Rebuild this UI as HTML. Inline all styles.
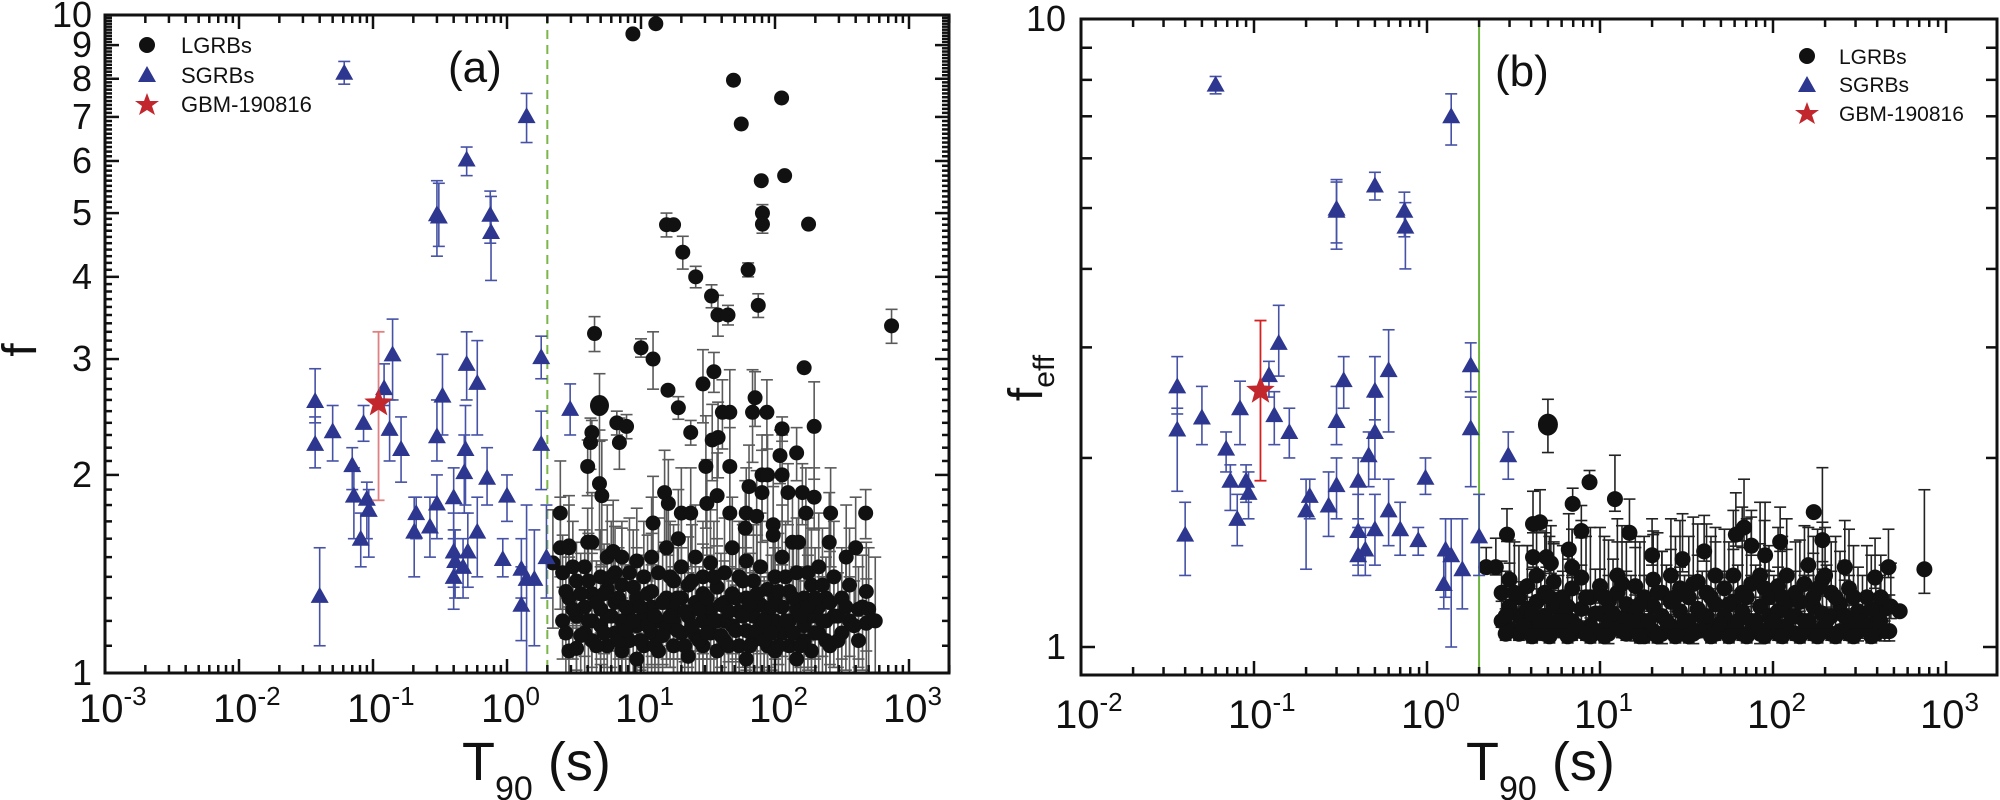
<!DOCTYPE html>
<html><head><meta charset="utf-8"><style>
html,body{margin:0;padding:0;background:#fff;}
svg{display:block;font-family:"Liberation Sans",Arial,sans-serif;}
</style></head><body>
<svg id="chart" width="2000" height="800" viewBox="0 0 2000 800" xmlns="http://www.w3.org/2000/svg">
<defs>
<clipPath id="clipA"><rect x="105" y="15" width="844" height="658"/></clipPath>
<clipPath id="clipB"><rect x="1081" y="19" width="916" height="656"/></clipPath>
</defs>
<g id="panelA"></g>
<g id="panelB"></g>
</svg>
<script>
// ---------- Panel (a) data ----------
const sgrbA_T=[0.037,0.037,0.040,0.050,0.061,0.070,0.072,0.085,0.081,0.090,0.093,0.121,0.140,0.133,0.162,0.21,0.203,0.266,0.30,0.31,0.30,0.30,0.33,0.40,0.40,0.40,0.41,0.47,0.50,0.50,0.49,0.48,0.51,0.60,0.60,0.71,0.75,0.76,1.0,0.93,1.28,1.40,1.28,1.40,1.60,1.80,1.80,1.97,2.96];
const sgrbA_f=[2.59,2.23,1.31,2.33,8.17,2.07,1.86,2.40,1.60,1.84,1.77,2.71,3.05,2.35,2.19,1.75,1.64,1.67,4.98,4.94,2.29,1.81,2.64,1.85,1.53,1.40,1.48,1.45,6.03,2.95,2.19,2.02,1.53,2.76,1.64,1.98,4.97,4.68,1.86,1.49,1.44,7.02,1.27,1.39,1.39,3.02,2.23,1.50,2.52];
const sgrbA_lo=[2.40,2.05,1.10,2.10,7.85,1.90,1.60,2.25,1.45,1.60,1.50,2.55,2.60,2.10,1.95,1.60,1.40,1.50,4.30,4.45,2.10,1.60,2.30,1.65,1.35,1.25,1.30,1.30,5.70,2.60,1.80,1.75,1.35,2.30,1.40,1.80,4.50,3.95,1.70,1.40,1.30,6.40,1.12,1.00,1.10,2.80,1.90,1.30,2.30];
const sgrbA_hi=[2.90,2.45,1.55,2.55,8.50,2.20,2.05,2.55,1.75,1.95,1.90,2.95,3.45,2.60,2.45,1.85,1.85,1.85,5.60,5.55,2.60,2.00,3.05,2.05,1.75,1.60,1.65,1.60,6.30,3.30,2.55,2.30,1.75,3.20,1.85,2.20,5.40,5.30,2.00,1.60,1.60,7.60,1.45,1.80,1.65,3.25,2.50,1.80,2.75];
const starA=[0.11,2.57,1.83,3.30];
// [T, f, err]
const lgrbA_outliers=[[8.7,9.36,0],[12.9,9.7,0],[49,7.96,0],[112,7.48,0],[56,6.83,0],[79,5.6,0],[118,5.7,0],[80.6,5.0,0.15],[80.6,4.81,0.15],[178,4.81,0],[15.5,4.8,0.2],[17.5,4.8,0],[20.5,4.36,0.25],[25.6,4.0,0.15],[33.6,3.74,0.15],[37.5,3.5,0.25],[44.6,3.5,0.12],[63,4.1,0.1],[75,3.62,0.15],[741,3.37,0.2],[4.5,3.28,0.2],[10,3.12,0.1],[12.3,3.0,0.3],[15.9,2.69,0],[29,2.75,0.35],[35,2.87,0.2],[165,2.91,0],[71,2.62,0.25],
[2.5,1.75,0.35],[4.0,2.06,0.2],[4.2,2.24,0.2],[4.3,2.32,0.1],[4.9,1.94,0.4],[5.1,1.86,0.4],[4.0,1.58,0.2],[6.6,2.4,0.1],[7.8,2.37,0.1],[6.9,2.24,0.2],[19,2.53,0.1],[23.5,2.32,0.1],[30.5,2.06,0.4],[34,2.26,0.3],[37.6,2.28,0.3],[40.5,2.49,0.3],[46,2.49,0.4],[46,2.06,0.3],[68,2.49,0.4],[87,2.49,0.3],[113,2.35,0.1],[196,2.37,0.4],[145,2.16,0.2],[109,2.14,0.2],[80,2.0,0.3],[88,2.0,0.3],[113,2.0,0.3],[64,1.92,0.3],[80,1.88,0.3],[125,1.88,0.2],[160,1.88,0.2],[196,1.85,0.2],[260,1.75,0.3],[475,1.75,0.15],[170,1.75,0.3],[46,1.75,0.3],[61,1.75,0.3],[73,1.73,0.3],[20,1.75,0.3],[23.5,1.75,0.3],[15,1.88,0.3],[16,1.81,0.3],[31,1.81,0.3],[37,1.86,0.3],[12.3,1.69,0.3],[19,1.6,0.3],[6.2,1.53,0.3],[60,1.66,0.3],[97,1.68,0.3],[97,1.62,0.3],[135,1.58,0.3],[150,1.58,0.3],[254,1.58,0.3],[400,1.55,0.3],[340,1.5,0.3],[500,1.25,0.3],[560,1.2,0.3],[3.3,1.09,0.1],[2.2,1.47,0.3],[2.5,1.55,0.3],[2.9,1.56,0.3]];
const lgrbA_big=[[4.9,2.55,0.3]];
const lgrbA_cluster=[[2.6,1.42,0.2],[2.6,1.2,0.15],[2.9,1.55,0.25],[2.9,1.3,0.2],[2.9,1.08,0.1],[3.3,1.09,0.08],[3.3,1.38,0.2],[3.3,1.22,0.15],[3.8,1.26,0.2],[3.8,1.15,0.15],[3.8,1.45,0.2],[4.3,1.32,0.2],[4.3,1.12,0.1],[4.3,1.2,0.2],[4.3,1.58,0.3],[5,1.25,0.2],[5,1.4,0.25],[5,1.18,0.15],[5.6,1.1,0.1],[5.6,1.34,0.2],[5.6,1.5,0.3],[5.6,1.22,0.2],[6.4,1.28,0.2],[6.4,1.15,0.15],[6.4,1.42,0.25],[7.2,1.36,0.3],[7.2,1.2,0.2],[7.2,1.08,0.1],[7.2,1.5,0.2],[8.2,1.25,0.2],[8.2,1.42,0.3],[8.2,1.12,0.15],[9.3,1.3,0.25],[9.3,1.18,0.2],[9.3,1.05,0.1],[9.3,1.48,0.3],[10.5,1.4,0.3],[10.5,1.22,0.2],[10.5,1.1,0.15],[12,1.33,0.3],[12,1.15,0.2],[12,1.5,0.35],[12,1.26,0.2],[13.5,1.2,0.2],[13.5,1.08,0.1],[13.5,1.42,0.3],[15.5,1.3,0.25],[15.5,1.17,0.15],[15.5,1.55,0.3],[17.5,1.25,0.2],[17.5,1.38,0.3],[17.5,1.1,0.1],[17.5,1.2,0.2],[20,1.45,0.3],[20,1.15,0.2],[20,1.3,0.25],[22.5,1.22,0.2],[22.5,1.06,0.1],[22.5,1.36,0.25],[25.5,1.28,0.2],[25.5,1.5,0.3],[25.5,1.14,0.15],[29,1.2,0.2],[29,1.4,0.3],[29,1.1,0.1],[29,1.32,0.25],[33,1.25,0.2],[33,1.15,0.15],[33,1.47,0.3],[37,1.35,0.25],[37,1.08,0.1],[37,1.2,0.2],[42,1.28,0.2],[42,1.42,0.3],[42,1.12,0.15],[42,1.2,0.2],[48,1.18,0.2],[48,1.32,0.25],[48,1.55,0.3],[54,1.24,0.2],[54,1.1,0.1],[54,1.4,0.3],[61,1.3,0.25],[61,1.16,0.15],[61,1.05,0.1],[61,1.48,0.3],[69,1.22,0.2],[69,1.38,0.3],[69,1.12,0.15],[78,1.27,0.2],[78,1.45,0.3],[78,1.18,0.2],[88,1.34,0.25],[88,1.1,0.1],[88,1.22,0.2],[100,1.2,0.2],[100,1.4,0.3],[100,1.08,0.1],[100,1.3,0.25],[113,1.26,0.2],[113,1.15,0.15],[113,1.5,0.3],[128,1.33,0.25],[128,1.2,0.2],[128,1.1,0.15],[145,1.42,0.3],[145,1.25,0.2],[145,1.05,0.1],[165,1.18,0.2],[165,1.3,0.25],[165,1.12,0.1],[187,1.36,0.3],[187,1.22,0.2],[187,1.08,0.1],[212,1.26,0.2],[212,1.15,0.15],[212,1.45,0.3],[240,1.3,0.2],[240,1.12,0.15],[240,1.2,0.2],[275,1.4,0.3],[275,1.22,0.2],[315,1.15,0.15],[315,1.3,0.25],[360,1.36,0.3],[360,1.2,0.2],[420,1.25,0.2],[420,1.12,0.1],[480,1.33,0.25],[480,1.19,0.2]];
const lgrbA_cluster2=[[2.75,1.33,.2],[2.75,1.15,.15],[3.1,1.25,.2],[3.1,1.45,.25],[3.55,1.14,.15],[3.55,1.32,.2],[4.05,1.2,.2],[4.05,1.38,.25],[4.65,1.1,.1],[4.65,1.28,.2],[5.3,1.15,.15],[5.3,1.32,.25],[6.0,1.22,.2],[6.0,1.4,.3],[6.8,1.12,.15],[6.8,1.3,.25],[7.7,1.26,.2],[7.7,1.16,.2],[8.75,1.35,.3],[8.75,1.2,.2],[9.9,1.12,.15],[9.9,1.26,.25],[11.2,1.18,.2],[11.2,1.32,.3],[12.7,1.1,.15],[12.7,1.22,.2],[14.5,1.28,.25],[14.5,1.14,.15],[16.5,1.22,.2],[16.5,1.4,.3],[18.7,1.16,.2],[18.7,1.3,.25],[21.2,1.1,.15],[21.2,1.24,.2],[24,1.18,.2],[24,1.38,.3],[27.2,1.25,.2],[27.2,1.12,.15],[31,1.15,.2],[31,1.3,.25],[35,1.2,.2],[35,1.4,.3],[39.5,1.14,.15],[39.5,1.27,.25],[45,1.1,.1],[45,1.24,.2],[51,1.3,.25],[51,1.16,.2],[57.5,1.22,.2],[57.5,1.38,.3],[65,1.1,.15],[65,1.27,.25],[73.5,1.16,.2],[73.5,1.32,.3],[83,1.2,.2],[83,1.12,.15],[94,1.26,.25],[94,1.15,.2],[106,1.33,.3],[106,1.1,.15],[120,1.2,.2],[120,1.4,.3],[137,1.15,.15],[137,1.3,.25],[155,1.22,.2],[155,1.1,.1],[176,1.26,.25],[176,1.42,.3],[199,1.15,.2],[199,1.3,.25],[226,1.2,.2],[226,1.36,.3],[257,1.1,.15],[257,1.28,.25],[295,1.22,.2],[295,1.12,.15],[338,1.26,.25],[390,1.18,.2],[450,1.26,.25]];
const xTickExpA=[-3,-2,-1,0,1,2,3];
const yTickLabelsA=[1,2,3,4,5,6,7,8,9,10];

// ---------- Panel (b) data ----------
const sgrbB_T=[0.036,0.036,0.040,0.050,0.060,0.069,0.073,0.083,0.080,0.090,0.093,0.122,0.139,0.131,0.160,0.21,0.20,0.27,0.30,0.30,0.30,0.30,0.33,0.40,0.40,0.40,0.44,0.46,0.50,0.50,0.50,0.50,0.60,0.60,0.70,0.74,0.75,0.89,0.98,1.28,1.38,1.25,1.38,1.60,1.79,1.79,2.0,2.95];
const sgrbB_f=[2.60,2.22,1.51,2.32,7.86,2.07,1.84,2.40,1.60,1.84,1.76,2.71,3.05,2.34,2.20,1.74,1.65,1.68,4.99,4.95,2.29,1.81,2.66,1.84,1.53,1.40,1.43,2.02,5.43,2.56,2.20,1.54,2.76,1.65,1.54,4.95,4.67,1.48,1.86,1.43,7.00,1.26,1.40,1.33,2.81,2.23,1.50,2.02];
const sgrbB_lo=[2.35,1.77,1.30,2.10,7.60,1.90,1.65,2.10,1.45,1.70,1.60,2.50,2.70,2.10,2.00,1.60,1.33,1.50,4.40,4.30,2.10,1.60,2.40,1.60,1.35,1.30,1.30,1.80,5.15,2.30,1.85,1.35,2.20,1.45,1.40,4.50,4.00,1.40,1.75,1.20,6.30,1.15,1.00,1.15,2.55,1.80,1.30,1.85];
const sgrbB_hi=[2.90,2.40,1.70,2.60,8.10,2.20,1.95,2.65,1.75,1.95,1.90,2.85,3.50,2.55,2.40,1.85,1.85,1.90,5.50,5.55,2.60,2.00,2.90,2.00,1.75,1.55,1.55,2.20,5.70,2.90,2.50,1.75,3.20,1.85,1.70,5.30,5.10,1.55,2.00,1.60,7.60,1.40,1.60,1.60,3.05,2.50,1.75,2.20];
const starB=[0.109,2.56,1.84,3.31];
const lgrbB_big=[[5.0,2.26,0.22]];
const lgrbB_outliers=[[8.7,1.83,0.08],[12.2,1.72,0.3],[6.95,1.69,0.1],[7.8,1.53,0.15],[6.6,1.43,0.2],[4.1,1.57,0.2],[4.5,1.58,0.2],[2.9,1.51,0.15],[4.1,1.39,0.2],[4.9,1.39,0.2],[5.2,1.36,0.2],[6.9,1.34,0.2],[14.8,1.52,0.2],[61,1.51,0.25],[68,1.55,0.3],[110,1.47,0.2],[172,1.64,0],[193,1.48,0.45],[260,1.34,0.25],[389,1.29,0.2],[465,1.34,0.2],[540,1.14,0],[750,1.33,0.45],[2.2,1.34,0.1],[2.5,1.34,0.15],[75,1.45,0.2],[90,1.4,0.3],[40,1.42,0.2],[30,1.38,0.25],[20,1.4,0.2],[160,1.35,0.2],[200,1.3,0.25],[420,1.2,0.2],[480,1.16,0.2]];
const lgrbB_cluster=[[2.7,1.22,0.15],[2.7,1.1,0.1],[3.0,1.07,0.1],[3.0,1.16,0.2],[3.0,1.28,0.2],[3.4,1.12,0.15],[3.4,1.2,0.25],[3.4,1.05,0.1],[3.8,1.25,0.2],[3.8,1.09,0.15],[3.8,1.15,0.3],[4.3,1.06,0.1],[4.3,1.18,0.2],[4.3,1.3,0.25],[4.8,1.12,0.2],[4.8,1.22,0.3],[4.8,1.05,0.1],[5.4,1.08,0.15],[5.4,1.27,0.2],[5.4,1.16,0.3],[6.1,1.2,0.25],[6.1,1.06,0.1],[6.1,1.12,0.2],[6.9,1.1,0.2],[6.9,1.24,0.3],[6.9,1.05,0.1],[7.8,1.15,0.2],[7.8,1.06,0.1],[7.8,1.29,0.3],[8.8,1.08,0.15],[8.8,1.2,0.35],[8.8,1.04,0.1],[10,1.13,0.2],[10,1.25,0.3],[10,1.06,0.1],[11.2,1.05,0.15],[11.2,1.18,0.3],[11.2,1.1,0.2],[12.6,1.22,0.25],[12.6,1.08,0.1],[12.6,1.3,0.3],[14.2,1.12,0.2],[14.2,1.05,0.1],[14.2,1.17,0.3],[16,1.06,0.15],[16,1.25,0.25],[16,1.14,0.3],[18,1.1,0.2],[18,1.2,0.3],[18,1.04,0.1],[20.3,1.16,0.35],[20.3,1.06,0.1],[20.3,1.28,0.25],[22.8,1.05,0.15],[22.8,1.12,0.3],[22.8,1.22,0.2],[25.7,1.18,0.25],[25.7,1.08,0.1],[25.7,1.3,0.3],[29,1.06,0.15],[29,1.14,0.2],[29,1.24,0.35],[32.6,1.1,0.2],[32.6,1.2,0.3],[32.6,1.04,0.1],[36.7,1.15,0.25],[36.7,1.06,0.1],[36.7,1.27,0.3],[41.3,1.08,0.15],[41.3,1.22,0.35],[41.3,1.12,0.2],[46.5,1.05,0.1],[46.5,1.17,0.3],[46.5,1.3,0.25],[52.4,1.12,0.2],[52.4,1.06,0.1],[52.4,1.24,0.3],[59,1.18,0.25],[59,1.08,0.15],[59,1.3,0.35],[66.4,1.05,0.1],[66.4,1.14,0.3],[66.4,1.22,0.45],[74.8,1.1,0.2],[74.8,1.26,0.35],[74.8,1.06,0.1],[84.2,1.16,0.3],[84.2,1.05,0.15],[84.2,1.3,0.4],[94.8,1.07,0.1],[94.8,1.2,0.25],[94.8,1.12,0.2],[107,1.14,0.2],[107,1.05,0.1],[107,1.25,0.3],[120,1.08,0.15],[120,1.18,0.25],[120,1.3,0.3],[135,1.05,0.1],[135,1.12,0.2],[135,1.22,0.25],[152,1.1,0.2],[152,1.26,0.3],[152,1.06,0.1],[171,1.16,0.25],[171,1.05,0.1],[171,1.2,0.3],[193,1.07,0.15],[193,1.13,0.2],[193,1.28,0.3],[217,1.12,0.2],[217,1.05,0.1],[217,1.22,0.25],[244,1.06,0.1],[244,1.17,0.25],[275,1.1,0.2],[275,1.24,0.3],[275,1.05,0.1],[310,1.14,0.2],[310,1.06,0.15],[349,1.07,0.15],[349,1.2,0.25],[393,1.1,0.2],[393,1.05,0.1],[442,1.06,0.15],[442,1.15,0.2]];
const lgrbB_cluster2=[[2.85,1.12,.2],[2.85,1.05,.1],[3.2,1.22,.25],[3.6,1.08,.15],[4.05,1.13,.2],[4.05,1.04,.1],[4.55,1.1,.2],[5.1,1.04,.1],[5.1,1.2,.3],[5.75,1.1,.2],[6.5,1.16,.25],[6.5,1.04,.1],[7.35,1.08,.15],[8.3,1.2,.3],[8.3,1.05,.1],[9.4,1.13,.2],[10.6,1.04,.1],[10.6,1.2,.3],[11.9,1.13,.25],[13.4,1.06,.1],[13.4,1.26,.3],[15.1,1.1,.2],[17,1.04,.1],[17,1.17,.3],[19.1,1.1,.2],[21.5,1.04,.1],[21.5,1.22,.3],[24.2,1.1,.25],[27.3,1.04,.1],[27.3,1.2,.3],[30.8,1.1,.2],[34.6,1.05,.15],[34.6,1.26,.35],[39,1.12,.2],[43.8,1.04,.1],[43.8,1.2,.3],[49.4,1.09,.2],[55.6,1.04,.1],[55.6,1.17,.3],[62.6,1.1,.25],[70.5,1.04,.1],[70.5,1.2,.4],[79.4,1.1,.25],[89.4,1.04,.1],[89.4,1.24,.35],[101,1.1,.2],[113,1.04,.1],[113,1.2,.3],[127,1.12,.2],[143,1.04,.1],[143,1.18,.3],[161,1.1,.2],[181,1.04,.1],[181,1.24,.3],[204,1.1,.25],[230,1.04,.1],[230,1.2,.3],[259,1.12,.25],[292,1.04,.1],[292,1.2,.25],[329,1.1,.2],[370,1.04,.1],[370,1.15,.25],[416,1.1,.2],[470,1.06,.15]];
const xTickExpB=[-2,-1,0,1,2,3];
const yTickLabelsB=[1,10];

// ---------- helpers ----------
const NS='http://www.w3.org/2000/svg';
function mk(tag,attrs,parent){const e=document.createElementNS(NS,tag);for(const k in attrs)e.setAttribute(k,attrs[k]);if(parent)parent.appendChild(e);return e;}
const L=Math.log10;

function makePanel(cfg){
  const g=document.getElementById(cfg.id);
  const X=t=>cfg.x0+cfg.dx*(L(t)-cfg.tmin);
  const Y=f=>cfg.y0-cfg.dy*L(f);
  const plot=mk('g',{'clip-path':'url(#'+cfg.clip+')'},g);
  
  
  const th=mk('line',{x1:X(2),x2:X(2),y1:cfg.top,y2:cfg.bottom,stroke:cfg.lineColor,'stroke-width':2,'stroke-dasharray':cfg.dashed?'9,6':'none'},plot);
  
  

  function errbar(parent,t,lo,hi,color,w,cap){
    const x=X(t),y1=Y(lo),y2=Y(hi);
    mk('line',{x1:x,x2:x,y1:y1,y2:y2,stroke:color,'stroke-width':w},parent);
    mk('line',{x1:x-cap,x2:x+cap,y1:y1,y2:y1,stroke:color,'stroke-width':w},parent);
    mk('line',{x1:x-cap,x2:x+cap,y1:y2,y2:y2,stroke:color,'stroke-width':w},parent);
  }
  const lg=mk('g',{},plot);
  
  
  const allL=cfg.lgCluster.concat(cfg.lgCluster2,cfg.lgOut);
  allL.forEach(p=>{if(p[2]>0)errbar(lg,p[0],Math.max(0.9,p[1]-p[2]*cfg.lowFrac),p[1]+p[2],cfg.lgErr,1.6,6);});
  cfg.lgBig.forEach(p=>errbar(lg,p[0],p[1]-p[2],p[1]+p[2],cfg.lgErr,1.6,6));
  allL.forEach(p=>{const c=mk('circle',{cx:X(p[0]),cy:Y(p[1]),r:cfg.r,fill:'#111'},lg);
    
    });
  cfg.lgBig.forEach(p=>{const c=mk('ellipse',{cx:X(p[0]),cy:Y(p[1]),rx:cfg.r+2,ry:cfg.r+3,fill:'#111'},lg);
    
    });
  const sg=mk('g',{},plot);
  
  
  cfg.sT.forEach((t,i)=>errbar(sg,t,cfg.sLo[i],cfg.sHi[i],'#4652a6',1.6,6));
  cfg.sT.forEach((t,i)=>{const x=X(t),y=Y(cfg.sF[i]);
    const tr=mk('polygon',{points:`${x-9},${y+7} ${x+9},${y+7} ${x},${y-9}`,fill:'#2e3790'},sg);
    
    });
  const s=cfg.star;
  errbar(plot,s[0],s[2],s[3],cfg.starErr,1.8,6);
  const st=star(X(s[0]),Y(s[1]),15,plot);
  
  

  const fr=mk('rect',{x:cfg.x0,y:cfg.top,width:cfg.right-cfg.x0,height:cfg.bottom-cfg.top,fill:'none',stroke:'#111','stroke-width':3},g);
  
  
  const ax=mk('g',{stroke:'#111','stroke-width':2.5},g);
  
  
  cfg.xExp.forEach(e=>{
    for(let m=1;m<=9;m++){const t=m*Math.pow(10,e);const x=X(t);if(x<cfg.x0-1||x>cfg.right+1)continue;
      const len=m===1?14:8;
      mk('line',{x1:x,x2:x,y1:cfg.bottom,y2:cfg.bottom-len},ax);
      mk('line',{x1:x,x2:x,y1:cfg.top,y2:cfg.top+len},ax);}
  });
  cfg.xExp.forEach(e=>{
    const x=X(Math.pow(10,e));
    const tx=mk('text',{x:x-26,y:cfg.xLabY,'font-size':40,fill:'#111'},g);
    tx.textContent='10';
    const sp=mk('tspan',{dy:-17,'font-size':26},tx);sp.textContent=String(e);
    
    
  });
  const ay=mk('g',{stroke:'#111','stroke-width':2.5},g);
  
  
  cfg.yMinor.forEach(v=>{const y=Y(v);
    mk('line',{x1:cfg.x0,x2:cfg.x0+cfg.yMinLen,y1:y,y2:y},ay);
    mk('line',{x1:cfg.right,x2:cfg.right-cfg.yMinLen,y1:y,y2:y},ay);});
  cfg.yMajor.forEach(v=>{const y=Y(v);
    mk('line',{x1:cfg.x0,x2:cfg.x0+14,y1:y,y2:y},ay);
    mk('line',{x1:cfg.right,x2:cfg.right-14,y1:y,y2:y},ay);});
  cfg.yLabels.forEach(v=>{const tx=mk('text',{x:cfg.yLabX,y:Y(v)+12,'font-size':cfg.yLabSize,'text-anchor':'end',fill:'#111'},g);
    tx.textContent=String(v);
    
    });
  return {X,Y};
}
function star(cx,cy,R,parent){let pts=[];for(let i=0;i<10;i++){const r=i%2?R*0.42:R;const a=-Math.PI/2+i*Math.PI/5;pts.push((cx+r*Math.cos(a)).toFixed(1)+','+(cy+r*Math.sin(a)).toFixed(1));}
  return mk('polygon',{points:pts.join(' '),fill:'#c1272d'},parent);}

const minorA=[];for(let k=11;k<100;k++){if(k%10)minorA.push(k/10);}
makePanel({id:'panelA',clip:'clipA',x0:105,tmin:-3,dx:134,y0:673,dy:658,top:15,bottom:673,right:949,
  lineColor:'#7ab648',dashed:true,r:7.5,lgErr:'#5a5a5a',starErr:'#e08080',lowFrac:1,
  lgCluster:lgrbA_cluster,lgCluster2:lgrbA_cluster2,lgOut:lgrbA_outliers,lgBig:lgrbA_big,
  sT:sgrbA_T,sF:sgrbA_f,sLo:sgrbA_lo,sHi:sgrbA_hi,star:starA,
  xExp:xTickExpA,xLabY:722,yMinor:minorA,yMinLen:7,yMajor:yTickLabelsA,yLabels:yTickLabelsA,yLabX:92,yLabSize:36});
makePanel({id:'panelB',clip:'clipB',x0:1081,tmin:-2,dx:173,y0:647,dy:628,top:19,bottom:675,right:1997,
  lineColor:'#6db33f',dashed:false,r:8,lgErr:'#222',starErr:'#d42020',lowFrac:0.25,
  lgCluster:lgrbB_cluster,lgCluster2:lgrbB_cluster2,lgOut:lgrbB_outliers,lgBig:lgrbB_big,
  sT:sgrbB_T,sF:sgrbB_f,sLo:sgrbB_lo,sHi:sgrbB_hi,star:starB,
  xExp:xTickExpB,xLabY:728,yMinor:[2,3,4,5,6,7,8,9],yMinLen:11,yMajor:yTickLabelsB,yLabels:yTickLabelsB,yLabX:1066,yLabSize:36});
</script>
<svg style="position:absolute;left:0;top:0" width="2000" height="800" viewBox="0 0 2000 800" xmlns="http://www.w3.org/2000/svg" font-family="Liberation Sans, Arial, sans-serif">
<text transform="translate(36,350) rotate(-90)" font-size="48" text-anchor="middle" fill="#111">f</text>
<text x="462" y="780" font-size="54" fill="#111">T<tspan font-size="34" dy="20">90</tspan><tspan dy="-20"> (s)</tspan></text>
<text x="448" y="82" font-size="44" fill="#111">(a)</text>
<g>
<circle cx="147" cy="45" r="8" fill="#111"/>
<text x="181" y="53" font-size="22" fill="#111">LGRBs</text>
<polygon points="138,82 156,82 147,66" fill="#2e3790"/>
<text x="181" y="83" font-size="22" fill="#111">SGRBs</text>
<polygon points="147,93 150,101 159,101 152,106 155,115 147,110 139,115 142,106 135,101 144,101" fill="#c1272d"/>
<text x="181" y="112" font-size="22" fill="#111">GBM-190816</text>
</g>
<text transform="translate(1042,378) rotate(-90)" font-size="48" text-anchor="middle" fill="#111">f<tspan font-size="30" dy="12">eff</tspan></text>
<text x="1466" y="780" font-size="54" fill="#111">T<tspan font-size="34" dy="20">90</tspan><tspan dy="-20"> (s)</tspan></text>
<text x="1495" y="86" font-size="44" fill="#111">(b)</text>
<g>
<circle cx="1807" cy="56" r="8" fill="#111"/>
<text x="1839" y="64" font-size="21" fill="#111">LGRBs</text>
<polygon points="1798,92 1816,92 1807,76" fill="#2e3790"/>
<text x="1839" y="92" font-size="21" fill="#111">SGRBs</text>
<polygon points="1807,102 1810,110 1819,110 1812,115 1815,124 1807,119 1799,124 1802,115 1795,110 1804,110" fill="#c1272d"/>
<text x="1839" y="121" font-size="21" fill="#111">GBM-190816</text>
</g>
</svg>
</body></html>
